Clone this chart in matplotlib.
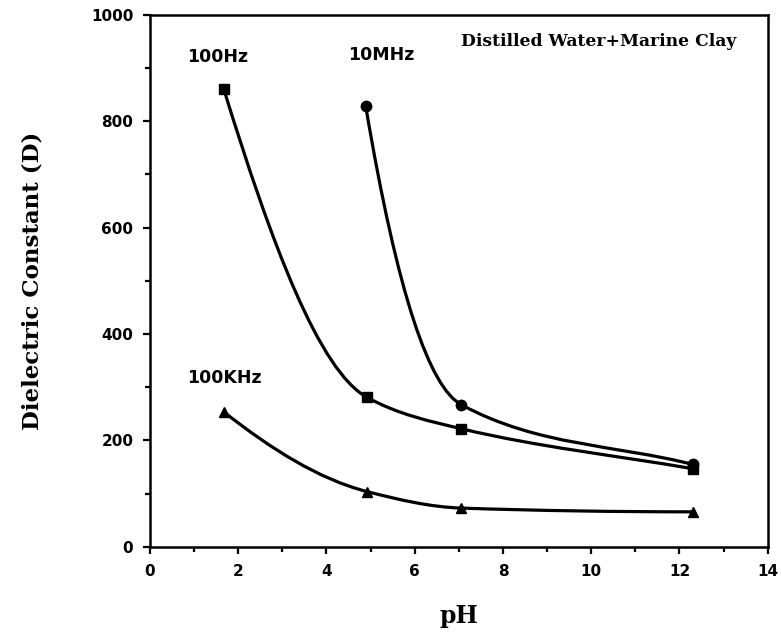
#!/usr/bin/env python3
"""Dielectric constant vs pH for distilled water + marine clay."""

import numpy as np
import matplotlib
matplotlib.use("Agg")
import matplotlib.pyplot as plt
from matplotlib.path import Path
from matplotlib.patches import PathPatch
from matplotlib.ticker import MultipleLocator

# data
ph_100hz = [1.67, 4.92, 7.06, 12.3]
d_100hz = [861, 281, 222, 147]

ph_10mhz = [4.89, 7.06, 12.3]
d_10mhz = [828, 267, 155]

ph_100khz = [1.67, 4.92, 7.06, 12.3]
d_100khz = [254, 104, 73, 66]

series_labels = ["100Hz", "10MHz", "100KHz"]
x_ticks = [0, 2, 4, 6, 8, 10, 12, 14]
y_ticks = [0, 200, 400, 600, 800, 1000]


def pchip_slopes(x, y):
    """Fritsch-Carlson tangents (shape preserving)."""
    x = np.asarray(x, float)
    y = np.asarray(y, float)
    h = np.diff(x)
    d = np.diff(y) / h
    m = np.zeros_like(y)
    for k in range(1, len(x) - 1):
        if d[k - 1] * d[k] <= 0:
            m[k] = 0.0
        else:
            w1 = 2 * h[k] + h[k - 1]
            w2 = h[k] + 2 * h[k - 1]
            m[k] = (w1 + w2) / (w1 / d[k - 1] + w2 / d[k])
    if len(x) == 2:
        m[0] = m[-1] = d[0]
    else:
        for i, (ha, hb, da, db) in ((0, (h[0], h[1], d[0], d[1])),
                                     (-1, (h[-1], h[-2], d[-1], d[-2]))):
            e = ((2 * ha + hb) * da - ha * db) / (ha + hb)
            if np.sign(e) != np.sign(da):
                e = 0.0
            elif np.sign(da) != np.sign(db) and abs(e) > 3 * abs(da):
                e = 3 * da
            m[i] = e
    return m


def smooth_path(x, y, start_boost=1.0, end_straight=False):
    """Cubic Bezier path through the points (Hermite form)."""
    m = pchip_slopes(x, y)
    m[0] *= start_boost
    if end_straight:
        # last segment drawn nearly straight, like the original
        m[-1] = (y[-1] - y[-2]) / (x[-1] - x[-2])
    verts = [(x[0], y[0])]
    codes = [Path.MOVETO]
    for k in range(len(x) - 1):
        h = (x[k + 1] - x[k]) / 3.0
        verts += [(x[k] + h, y[k] + h * m[k]),
                  (x[k + 1] - h, y[k + 1] - h * m[k + 1]),
                  (x[k + 1], y[k + 1])]
        codes += [Path.CURVE4] * 3
    return Path(verts, codes)


fig = plt.figure(figsize=(7.81, 6.36), dpi=100)
ax = fig.add_axes([0.192, 0.14, 0.791, 0.837])

for xs, ys, mk, boost, straight in ((ph_100hz, d_100hz, "s", 1.0, True),
                                    (ph_10mhz, d_10mhz, "o", 1.5, True),
                                    (ph_100khz, d_100khz, "^", 1.0, False)):
    ax.add_patch(PathPatch(smooth_path(xs, ys, boost, straight),
                           facecolor="none", edgecolor="black", lw=2.3,
                           capstyle="round", joinstyle="round"))
    ax.plot(xs, ys, linestyle="none", marker=mk, ms=7.5, color="black")

ax.set_xlim(0, 14)
ax.set_ylim(0, 1000)
ax.set_xticks(x_ticks)
ax.set_yticks(y_ticks)
ax.xaxis.set_minor_locator(MultipleLocator(1))
ax.yaxis.set_minor_locator(MultipleLocator(100))
ax.tick_params(which="both", direction="out", width=1.6, colors="black")
ax.tick_params(which="major", length=5, labelsize=11, pad=7)
ax.tick_params(which="minor", length=3.5)
for lbl in ax.get_xticklabels() + ax.get_yticklabels():
    lbl.set_fontweight("bold")
    lbl.set_family("DejaVu Sans")
for sp in ax.spines.values():
    sp.set_linewidth(1.8)

ax.set_xlabel("pH", family="DejaVu Serif", fontweight="bold", fontsize=17)
ax.set_ylabel("Dielectric Constant (D)", family="DejaVu Serif",
              fontweight="bold", fontsize=16.5)
ax.xaxis.label.set_va("center")
ax.yaxis.label.set_va("center")
ax.xaxis.set_label_coords(0.5, -0.13)
ax.yaxis.set_label_coords(-0.19, 0.5)

lab_kw = dict(fontsize=12.5, fontweight="bold", family="DejaVu Sans",
              va="center")
ax.text(0.84, 921, series_labels[0], **lab_kw)
ax.text(4.5, 925, series_labels[1], **lab_kw)
ax.text(0.84, 318, series_labels[2], **lab_kw)
ax.text(7.05, 949, "Distilled Water+Marine Clay", family="DejaVu Serif",
        fontweight="bold", fontsize=12.3, va="center")

fig.savefig("out.png", dpi=100)
